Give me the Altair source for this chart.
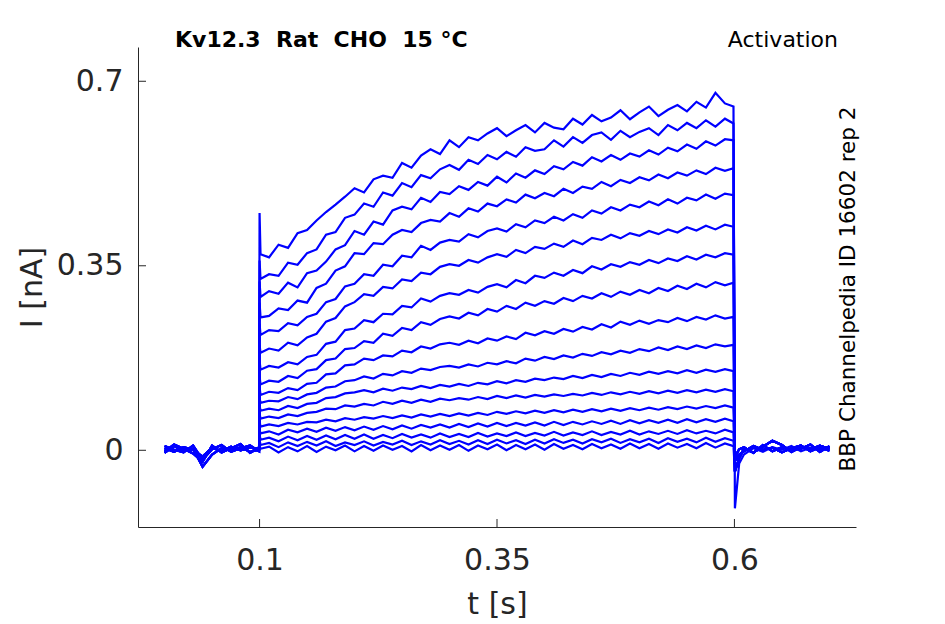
import pandas as pd
import altair as alt

# Kv12.3 activation sweeps, current in nA

# tick values
x_ticks = [0.1, 0.35, 0.6]
y_ticks = [0, 0.35, 0.7]

# time grids (s)
pre_t = [0.0, 0.01, 0.02, 0.03, 0.04, 0.05, 0.06, 0.07, 0.08, 0.09, 0.0995]
spike_t = 0.1
pulse_t = [0.101] + [round(0.11 + 0.01 * k, 3) for k in range(49)] + [0.599]
post_t = [0.6005, 0.605, 0.61, 0.62, 0.63, 0.64, 0.65, 0.66, 0.67, 0.68, 0.69, 0.70]

# baseline before the step (a few overlapping traces)
pre_a = [0.004, -0.003, 0.006, 0.001, -0.012, 0.005, -0.002, 0.007, 0.000, 0.005, 0.002]
pre_b = [-0.005, 0.008, -0.002, 0.003, -0.031, -0.008, 0.004, -0.001, 0.006, -0.003, 0.001]
pre_c = [0.008, 0.001, -0.004, 0.009, -0.018, 0.002, 0.010, -0.003, 0.004, 0.009, -0.002]
pre_d = [-0.002, 0.011, 0.003, -0.006, -0.022, 0.009, -0.004, 0.004, 0.012, -0.005, 0.006]

# tail after the step
post_a = [-0.110, -0.025, -0.008, 0.004, -0.003, 0.006, 0.001, 0.008, -0.002, 0.005, 0.002, 0.006]
post_b = [-0.040, -0.015, 0.003, -0.004, 0.007, 0.018, 0.010, -0.003, 0.006, 0.002, 0.009, 0.003]
post_c = [-0.020, -0.008, -0.002, 0.008, 0.001, 0.005, -0.004, 0.004, 0.009, -0.002, 0.006, -0.001]
post_d = [-0.012, 0.002, 0.006, -0.005, 0.010, -0.002, 0.006, 0.001, 0.003, 0.011, -0.003, 0.008]

# capacitive spike at t = 0.1
spike_peaks = [0.45, 0.36, 0.32, 0.28, 0.24, 0.20, 0.17, 0.14, 0.12, 0.10,
               0.085, 0.07, 0.055, 0.04, 0.03, 0.02, 0.01]

# sweeps during the pulse, top to bottom
sweep_01 = [0.372, 0.366, 0.390, 0.384, 0.412, 0.418, 0.436, 0.452, 0.466, 0.481,
            0.497, 0.489, 0.514, 0.521, 0.517, 0.545, 0.536, 0.559, 0.571, 0.562,
            0.588, 0.575, 0.594, 0.588, 0.601, 0.611, 0.596, 0.607, 0.617, 0.603,
            0.621, 0.612, 0.609, 0.629, 0.618, 0.636, 0.624, 0.631, 0.645, 0.628,
            0.641, 0.652, 0.634, 0.646, 0.655, 0.643, 0.661, 0.650, 0.678, 0.658, 0.652]
sweep_02 = [0.325, 0.334, 0.331, 0.356, 0.352, 0.374, 0.381, 0.409, 0.414, 0.441,
            0.447, 0.468, 0.462, 0.489, 0.483, 0.507, 0.499, 0.522, 0.516, 0.533,
            0.541, 0.532, 0.551, 0.543, 0.560, 0.552, 0.566, 0.557, 0.575, 0.568,
            0.571, 0.588, 0.576, 0.594, 0.583, 0.598, 0.603, 0.589, 0.606, 0.594,
            0.604, 0.611, 0.598, 0.617, 0.607, 0.621, 0.611, 0.626, 0.614, 0.629, 0.620]
sweep_03 = [0.291, 0.302, 0.297, 0.318, 0.309, 0.336, 0.341, 0.358, 0.381, 0.389,
            0.416, 0.409, 0.434, 0.428, 0.455, 0.462, 0.457, 0.479, 0.471, 0.490,
            0.486, 0.501, 0.494, 0.509, 0.502, 0.519, 0.508, 0.525, 0.517, 0.531,
            0.524, 0.539, 0.533, 0.547, 0.540, 0.556, 0.548, 0.560, 0.551, 0.563,
            0.557, 0.569, 0.561, 0.574, 0.567, 0.580, 0.572, 0.586, 0.578, 0.590, 0.588]
sweep_04 = [0.252, 0.255, 0.269, 0.266, 0.284, 0.280, 0.308, 0.316, 0.341, 0.349,
            0.374, 0.372, 0.393, 0.391, 0.409, 0.418, 0.414, 0.431, 0.437, 0.434,
            0.450, 0.443, 0.459, 0.453, 0.468, 0.463, 0.476, 0.470, 0.485, 0.478,
            0.488, 0.482, 0.496, 0.488, 0.500, 0.496, 0.509, 0.501, 0.513, 0.507,
            0.518, 0.512, 0.523, 0.516, 0.527, 0.521, 0.531, 0.524, 0.536, 0.530, 0.535]
sweep_05 = [0.219, 0.228, 0.226, 0.241, 0.237, 0.253, 0.259, 0.281, 0.287, 0.311,
            0.316, 0.334, 0.331, 0.352, 0.349, 0.369, 0.366, 0.388, 0.380, 0.394,
            0.399, 0.396, 0.410, 0.404, 0.416, 0.421, 0.415, 0.429, 0.423, 0.436,
            0.431, 0.443, 0.436, 0.448, 0.441, 0.455, 0.449, 0.461, 0.455, 0.466,
            0.461, 0.472, 0.465, 0.476, 0.468, 0.479, 0.474, 0.485, 0.477, 0.487, 0.484]
sweep_06 = [0.185, 0.193, 0.189, 0.204, 0.199, 0.214, 0.221, 0.244, 0.251, 0.273,
            0.281, 0.296, 0.293, 0.310, 0.307, 0.324, 0.321, 0.337, 0.334, 0.348,
            0.353, 0.350, 0.361, 0.356, 0.366, 0.372, 0.367, 0.380, 0.374, 0.386,
            0.382, 0.392, 0.386, 0.398, 0.391, 0.403, 0.399, 0.409, 0.402, 0.412,
            0.407, 0.416, 0.410, 0.419, 0.413, 0.423, 0.417, 0.426, 0.419, 0.428, 0.424]
sweep_07 = [0.153, 0.160, 0.157, 0.167, 0.163, 0.177, 0.181, 0.202, 0.206, 0.228,
            0.231, 0.247, 0.243, 0.259, 0.258, 0.274, 0.271, 0.288, 0.282, 0.293,
            0.298, 0.295, 0.304, 0.299, 0.310, 0.315, 0.309, 0.323, 0.317, 0.331,
            0.327, 0.337, 0.331, 0.342, 0.336, 0.349, 0.343, 0.353, 0.348, 0.357,
            0.352, 0.361, 0.355, 0.364, 0.359, 0.368, 0.362, 0.371, 0.366, 0.374, 0.371]
sweep_08 = [0.125, 0.132, 0.130, 0.141, 0.137, 0.151, 0.154, 0.171, 0.174, 0.192,
            0.194, 0.207, 0.204, 0.221, 0.217, 0.232, 0.228, 0.243, 0.238, 0.249,
            0.254, 0.250, 0.261, 0.256, 0.268, 0.263, 0.274, 0.268, 0.280, 0.274,
            0.283, 0.278, 0.289, 0.283, 0.293, 0.288, 0.298, 0.291, 0.301, 0.295,
            0.304, 0.298, 0.308, 0.302, 0.312, 0.306, 0.316, 0.309, 0.319, 0.313, 0.318]
sweep_09 = [0.105, 0.111, 0.109, 0.118, 0.114, 0.126, 0.128, 0.144, 0.146, 0.161,
            0.163, 0.174, 0.171, 0.180, 0.178, 0.189, 0.186, 0.197, 0.193, 0.201,
            0.204, 0.200, 0.208, 0.203, 0.212, 0.208, 0.216, 0.211, 0.223, 0.218,
            0.226, 0.221, 0.230, 0.225, 0.234, 0.229, 0.239, 0.233, 0.244, 0.238,
            0.246, 0.240, 0.247, 0.243, 0.251, 0.245, 0.253, 0.248, 0.256, 0.250, 0.253]
sweep_10 = [0.090, 0.094, 0.093, 0.101, 0.097, 0.106, 0.109, 0.119, 0.121, 0.131,
            0.133, 0.140, 0.136, 0.145, 0.142, 0.150, 0.147, 0.155, 0.152, 0.158,
            0.160, 0.157, 0.163, 0.159, 0.166, 0.163, 0.169, 0.165, 0.174, 0.170,
            0.177, 0.173, 0.180, 0.176, 0.183, 0.179, 0.186, 0.182, 0.189, 0.185,
            0.192, 0.188, 0.195, 0.190, 0.197, 0.192, 0.199, 0.194, 0.201, 0.197, 0.200]
sweep_11 = [0.075, 0.079, 0.076, 0.084, 0.080, 0.088, 0.090, 0.099, 0.101, 0.108,
            0.110, 0.114, 0.110, 0.117, 0.113, 0.119, 0.116, 0.122, 0.118, 0.124,
            0.121, 0.126, 0.122, 0.128, 0.125, 0.131, 0.127, 0.133, 0.130, 0.136,
            0.133, 0.138, 0.135, 0.141, 0.137, 0.143, 0.139, 0.145, 0.141, 0.147,
            0.143, 0.149, 0.145, 0.150, 0.146, 0.152, 0.147, 0.153, 0.149, 0.154, 0.150]
sweep_12 = [0.060, 0.064, 0.061, 0.068, 0.065, 0.071, 0.073, 0.079, 0.078, 0.085,
            0.083, 0.088, 0.085, 0.092, 0.088, 0.094, 0.090, 0.096, 0.092, 0.098,
            0.095, 0.099, 0.096, 0.101, 0.097, 0.103, 0.099, 0.104, 0.100, 0.105,
            0.102, 0.106, 0.103, 0.107, 0.104, 0.109, 0.105, 0.110, 0.106, 0.111,
            0.107, 0.112, 0.108, 0.113, 0.109, 0.114, 0.110, 0.115, 0.111, 0.116, 0.112]
sweep_13 = [0.045, 0.049, 0.046, 0.052, 0.049, 0.054, 0.053, 0.058, 0.055, 0.061,
            0.058, 0.063, 0.060, 0.065, 0.061, 0.066, 0.062, 0.068, 0.064, 0.069,
            0.065, 0.070, 0.066, 0.071, 0.067, 0.073, 0.069, 0.074, 0.070, 0.075,
            0.071, 0.076, 0.072, 0.077, 0.073, 0.078, 0.074, 0.079, 0.075, 0.080,
            0.076, 0.081, 0.077, 0.082, 0.078, 0.083, 0.079, 0.084, 0.080, 0.085, 0.081]
sweep_14 = [0.032, 0.036, 0.030, 0.039, 0.034, 0.041, 0.035, 0.043, 0.037, 0.044,
            0.038, 0.045, 0.039, 0.046, 0.040, 0.047, 0.041, 0.048, 0.043, 0.049,
            0.043, 0.050, 0.044, 0.051, 0.045, 0.052, 0.046, 0.052, 0.047, 0.053,
            0.047, 0.054, 0.048, 0.054, 0.049, 0.055, 0.050, 0.056, 0.050, 0.057,
            0.051, 0.057, 0.052, 0.058, 0.052, 0.059, 0.053, 0.059, 0.054, 0.060, 0.055]
sweep_15 = [0.020, 0.024, 0.017, 0.026, 0.019, 0.027, 0.020, 0.028, 0.021, 0.029,
            0.022, 0.030, 0.022, 0.029, 0.023, 0.031, 0.024, 0.030, 0.024, 0.032,
            0.025, 0.031, 0.025, 0.033, 0.026, 0.032, 0.027, 0.034, 0.027, 0.033,
            0.028, 0.035, 0.028, 0.034, 0.029, 0.036, 0.029, 0.035, 0.030, 0.037,
            0.030, 0.036, 0.031, 0.037, 0.031, 0.038, 0.032, 0.037, 0.032, 0.039, 0.034]
sweep_16 = [0.010, 0.014, 0.006, 0.015, 0.008, 0.016, 0.009, 0.017, 0.008, 0.015,
            0.010, 0.017, 0.009, 0.016, 0.011, 0.018, 0.010, 0.017, 0.011, 0.019,
            0.012, 0.018, 0.011, 0.019, 0.012, 0.020, 0.013, 0.019, 0.012, 0.020,
            0.013, 0.021, 0.014, 0.020, 0.013, 0.021, 0.015, 0.022, 0.014, 0.021,
            0.015, 0.022, 0.014, 0.023, 0.016, 0.022, 0.015, 0.024, 0.016, 0.023, 0.018]
sweep_17 = [0.003, 0.007, -0.004, 0.006, -0.002, 0.008, -0.003, 0.007, 0.000, 0.009,
            -0.002, 0.008, -0.001, 0.009, 0.001, 0.008, -0.002, 0.010, 0.000, 0.009,
            0.001, 0.010, -0.001, 0.009, 0.002, 0.011, 0.000, 0.010, 0.002, 0.011,
            0.001, 0.012, 0.003, 0.010, 0.002, 0.012, 0.004, 0.011, 0.003, 0.013,
            0.004, 0.012, 0.003, 0.013, 0.005, 0.012, 0.004, 0.014, 0.005, 0.013, 0.008]

sweeps = [sweep_01, sweep_02, sweep_03, sweep_04, sweep_05, sweep_06, sweep_07, sweep_08,
          sweep_09, sweep_10, sweep_11, sweep_12, sweep_13, sweep_14, sweep_15, sweep_16, sweep_17]
pre_list = [pre_a, pre_b, pre_c, pre_d]
post_list = [post_b, post_c, post_d]

rows = []
for i, sweep in enumerate(sweeps):
    pre = pre_list[i % 4]
    post = post_a if i == 0 else post_list[(i - 1) % 3]
    ts = pre_t + [spike_t] + pulse_t + post_t
    vs = pre + [spike_peaks[i]] + sweep + post
    for t, v in zip(ts, vs):
        rows.append({'sweep': i, 't': t, 'I': v})
df = pd.DataFrame(rows)

W, H = 718, 480
x_scale = alt.Scale(domain=[-0.028, 0.728], nice=False, zero=False)
y_scale = alt.Scale(domain=[-0.1455, 0.765], nice=False, zero=False)

lines = alt.Chart(df).mark_line(color='#0000ff', strokeWidth=2.2).encode(
    x=alt.X('t:Q', scale=x_scale, title='t [s]',
            axis=alt.Axis(values=x_ticks, format='.2~f', labelPadding=18, titlePadding=14)),
    y=alt.Y('I:Q', scale=y_scale, title='I [nA]',
            axis=alt.Axis(values=y_ticks, format='.2~f', labelPadding=15, titlePadding=9)),
    detail='sweep:N',
    order='t:Q'
)

# inward tick marks
xt = alt.Chart(pd.DataFrame({'t': x_ticks})).mark_rule(color='#262626', strokeWidth=1).encode(
    x=alt.X('t:Q', scale=x_scale), y=alt.value(H), y2=alt.value(H - 8))
yt = alt.Chart(pd.DataFrame({'I': y_ticks})).mark_rule(color='#262626', strokeWidth=1).encode(
    y=alt.Y('I:Q', scale=y_scale), x=alt.value(0), x2=alt.value(8))

sp2 = '\u00a0\u00a0'
title_txt = alt.Chart(pd.DataFrame({'s': ['Kv12.3' + sp2 + 'Rat' + sp2 + 'CHO' + sp2 + '15 °C']})).mark_text(
    font='DejaVu Sans', fontSize=22, fontWeight='bold', align='left', baseline='alphabetic',
    color='black').encode(text='s:N', x=alt.value(37), y=alt.value(0))
prot_txt = alt.Chart(pd.DataFrame({'s': ['Activation']})).mark_text(
    font='DejaVu Sans', fontSize=22, align='right', baseline='alphabetic',
    color='black').encode(text='s:N', x=alt.value(700), y=alt.value(0))
id_txt = alt.Chart(pd.DataFrame({'s': ['BBP Channelpedia ID 16602 rep 2']})).mark_text(
    font='DejaVu Sans', fontSize=21.5, align='center', baseline='alphabetic', angle=270,
    color='black').encode(text='s:N', x=alt.value(717), y=alt.value(242))

chart = alt.layer(lines, xt, yt, title_txt, prot_txt, id_txt).properties(
    width=W, height=H,
    autosize=alt.AutoSizeParams(type='none'),
    padding={'left': 130, 'top': 39, 'right': 80, 'bottom': 95}
).configure_view(
    stroke=None
).configure_axis(
    grid=False, ticks=False, tickSize=0,
    domainColor='#262626', domainWidth=1,
    labelFont='DejaVu Sans', labelFontSize=30, labelColor='#262626',
    titleFont='DejaVu Sans', titleFontSize=30, titleColor='#262626', titleFontWeight='normal'
)

chart.save('out.html', embed_options={'renderer': 'svg', 'actions': False})
